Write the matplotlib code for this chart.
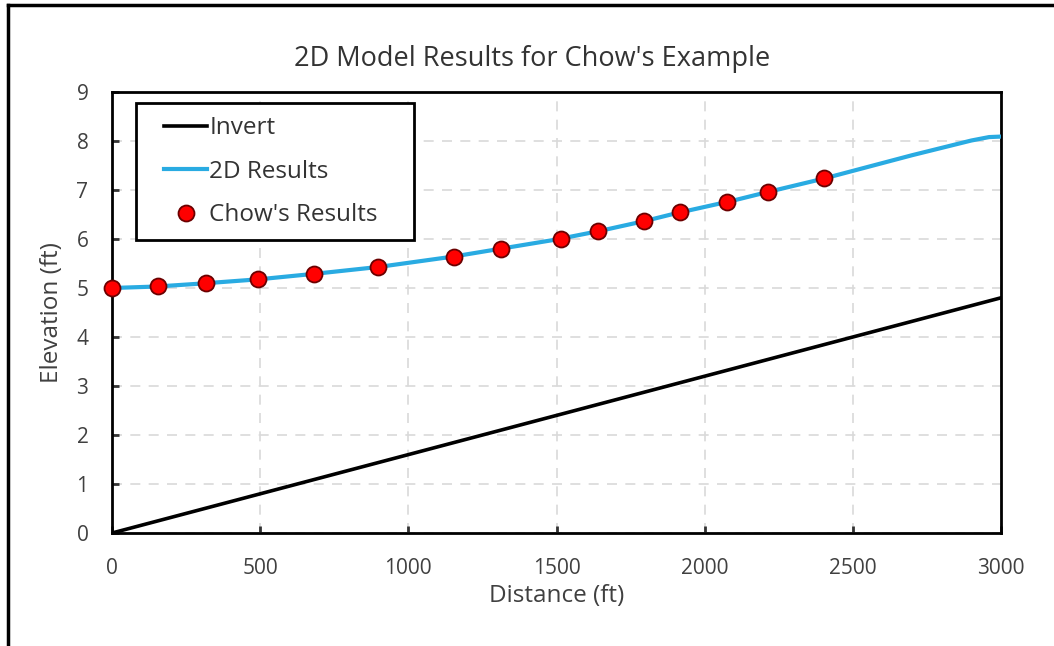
import matplotlib.pyplot as plt
from matplotlib.lines import Line2D
from matplotlib.patches import Rectangle

plt.rcParams['font.family'] = ['Open Sans', 'DejaVu Sans']

# invert of the channel
invert_x = [0, 3000]
invert_y = [0.0, 4.8]

# 2D model water surface
model_x = [0, 150, 300, 500, 700, 900, 1150, 1300, 1500, 1650, 1800, 1900,
           2100, 2200, 2400, 2500, 2600, 2700, 2800, 2900, 2960, 3000]
model_y = [5.0, 5.03, 5.09, 5.18, 5.30, 5.43, 5.64, 5.79, 5.99, 6.17, 6.37, 6.52,
           6.79, 6.94, 7.23, 7.39, 7.55, 7.71, 7.86, 8.01, 8.08, 8.09]

# Chow's results (points)
chow_x = [0, 154, 317, 493, 683, 897, 1155, 1314, 1515, 1640, 1795, 1917, 2075, 2215, 2403]
chow_y = [5.0, 5.04, 5.11, 5.18, 5.29, 5.42, 5.63, 5.80, 6.00, 6.16, 6.36, 6.55, 6.76, 6.96, 7.24]

xticks = [0, 500, 1000, 1500, 2000, 2500, 3000]
yticks = [0, 1, 2, 3, 4, 5, 6, 7, 8, 9]


def main():
    fig = plt.figure(figsize=(10.54, 6.46), dpi=100)
    ax = fig.add_axes([0.1063, 0.1749, 0.8434, 0.6827])

    ax.plot(invert_x, invert_y, color='black', lw=2.6, label='Invert', zorder=3)
    ax.plot(model_x, model_y, color='#29abe2', lw=3, label='2D Results', zorder=3)
    ax.plot(chow_x, chow_y, ls='none', marker='o', ms=11.5, mfc='#ff0000',
            mec='#6b0000', mew=1.3, label="Chow's Results", zorder=4, clip_on=False)

    ax.set_xlim(0, 3000)
    ax.set_ylim(0, 9)
    ax.set_xticks(xticks)
    ax.set_yticks(yticks)
    ax.grid(True, color='#d9d9d9', ls=(0, (6, 5)), lw=1.2)
    ax.set_axisbelow(True)
    for s in ax.spines.values():
        s.set_linewidth(2)
    ax.tick_params(direction='in', length=5, width=2, labelsize=15, colors='#333333',
                   labelcolor='#404040')
    ax.tick_params(axis='x', pad=18)
    ax.tick_params(axis='y', pad=17)

    fig.text(532 / 1054, 1 - 59 / 646, "2D Model Results for Chow's Example",
             fontsize=19.5, color='#333333', ha='center', va='center')
    ax.set_xlabel('Distance (ft)', fontsize=17.5, color='#404040')
    ax.set_ylabel('Elevation (ft)', fontsize=17.5, color='#404040')
    ax.xaxis.set_label_coords(0.5, -0.143)
    ax.yaxis.set_label_coords(-0.0675, 0.5)
    ax.xaxis.label.set_va('center')
    ax.yaxis.label.set_va('center')

    # legend box, then the entries without their own frame
    ax.add_patch(Rectangle((0.027, 0.664), 0.3127, 0.311, transform=ax.transAxes,
                           facecolor='white', edgecolor='black', lw=2, zorder=5))
    leg = ax.legend(loc='upper left', bbox_to_anchor=(0.0439, 0.975), fontsize=17.5,
                    frameon=False, borderpad=0.55, handlelength=1.75,
                    labelspacing=0.8, handletextpad=0.1, borderaxespad=0)
    leg.set_zorder(6)
    for t in leg.get_texts():
        t.set_color('#333333')

    # frame of the original picture (top and left edges)
    fig.add_artist(Line2D([8 / 1054, 1], [1 - 5 / 646, 1 - 5 / 646], color='black', lw=2.5))
    fig.add_artist(Line2D([8 / 1054, 8 / 1054], [0, 1 - 5 / 646], color='black', lw=2.5))

    fig.savefig('out.png', dpi=100)


if __name__ == '__main__':
    main()
